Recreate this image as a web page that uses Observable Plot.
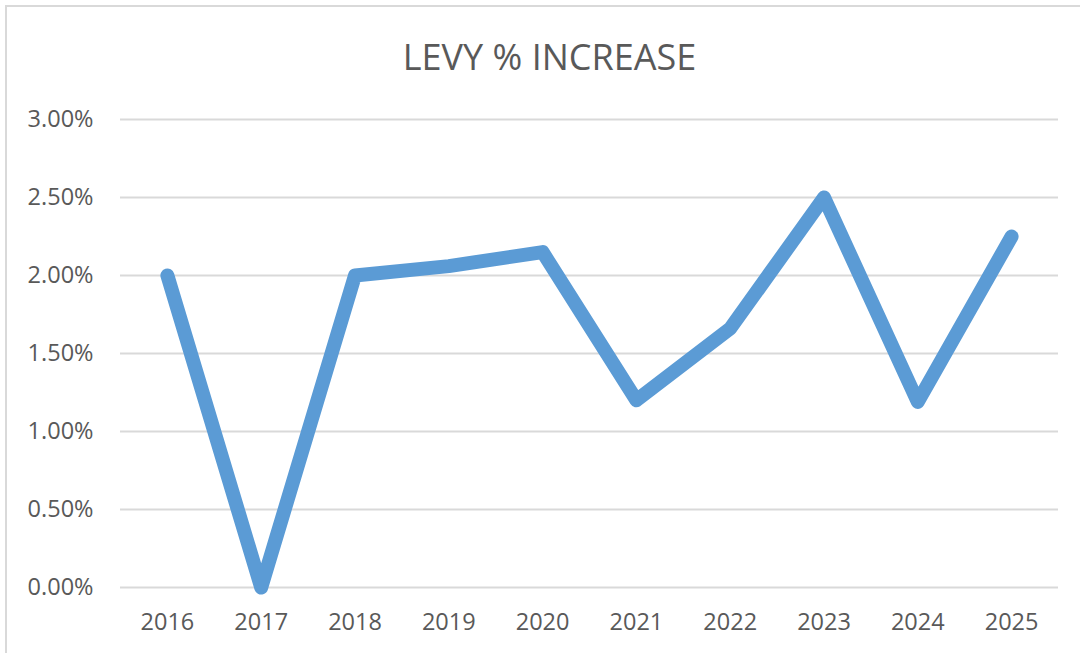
<!DOCTYPE html>
<html>
<head>
<meta charset="utf-8">
<script src="https://cdn.jsdelivr.net/npm/d3@7"></script>
<script src="https://cdn.jsdelivr.net/npm/@observablehq/plot@0.6"></script>
<style>
  html, body { margin: 0; padding: 0; background: #fff; overflow: hidden; }
  #wrap { position: relative; width: 1080px; height: 653px; overflow: hidden; font-family: "Open Sans", sans-serif; }
  #frame { position: absolute; left: 5px; top: 5px; width: 1100px; height: 700px; border: 2px solid #d9d9d9; box-sizing: border-box; pointer-events: none; }
  #title { position: absolute; left: 6px; width: 1087px; top: 39px; text-align: center; font-size: 36px; line-height: 36px; color: #595959; }
  #chart { position: absolute; left: 0; top: 90px; }
</style>
</head>
<body>
<div id="wrap">
  <div id="frame"></div>
  <div id="title">LEVY % INCREASE</div>
  <div id="chart"></div>
</div>
<script>
const years = ["2016","2017","2018","2019","2020","2021","2022","2023","2024","2025"];
const increase = [0.0200, 0.0000, 0.0200, 0.0206, 0.0215, 0.0120, 0.0166, 0.0250, 0.0119, 0.0225];
const yTicks = [0, 0.005, 0.01, 0.015, 0.02, 0.025, 0.03];

const data = years.map((year, i) => ({year, value: increase[i]}));

const chart = Plot.plot({
  width: 1080,
  height: 563,
  marginLeft: 120,
  marginRight: 22,
  marginTop: 29,
  marginBottom: 66,
  style: {fontFamily: "'Open Sans', sans-serif", fontSize: "23.5px", color: "#595959", background: "transparent"},
  x: {type: "point", domain: years, padding: 0.5, round: false, label: null},
  y: {domain: [0, 0.03], label: null},
  marks: [
    Plot.ruleY(yTicks, {stroke: "#d9d9d9", strokeWidth: 2, strokeOpacity: 1}),
    Plot.axisY({ticks: yTicks, tickFormat: d3.format(".2%"), tickSize: 0, tickPadding: 27, label: null, fill: "#595959"}),
    Plot.axisX({tickSize: 0, tickPadding: 26, label: null, fill: "#595959"}),
    Plot.line(data, {x: "year", y: "value", stroke: "#5b9bd5", strokeWidth: 14, strokeLinejoin: "round", strokeLinecap: "round"})
  ]
});
document.getElementById("chart").appendChild(chart);
</script>
</body>
</html>
